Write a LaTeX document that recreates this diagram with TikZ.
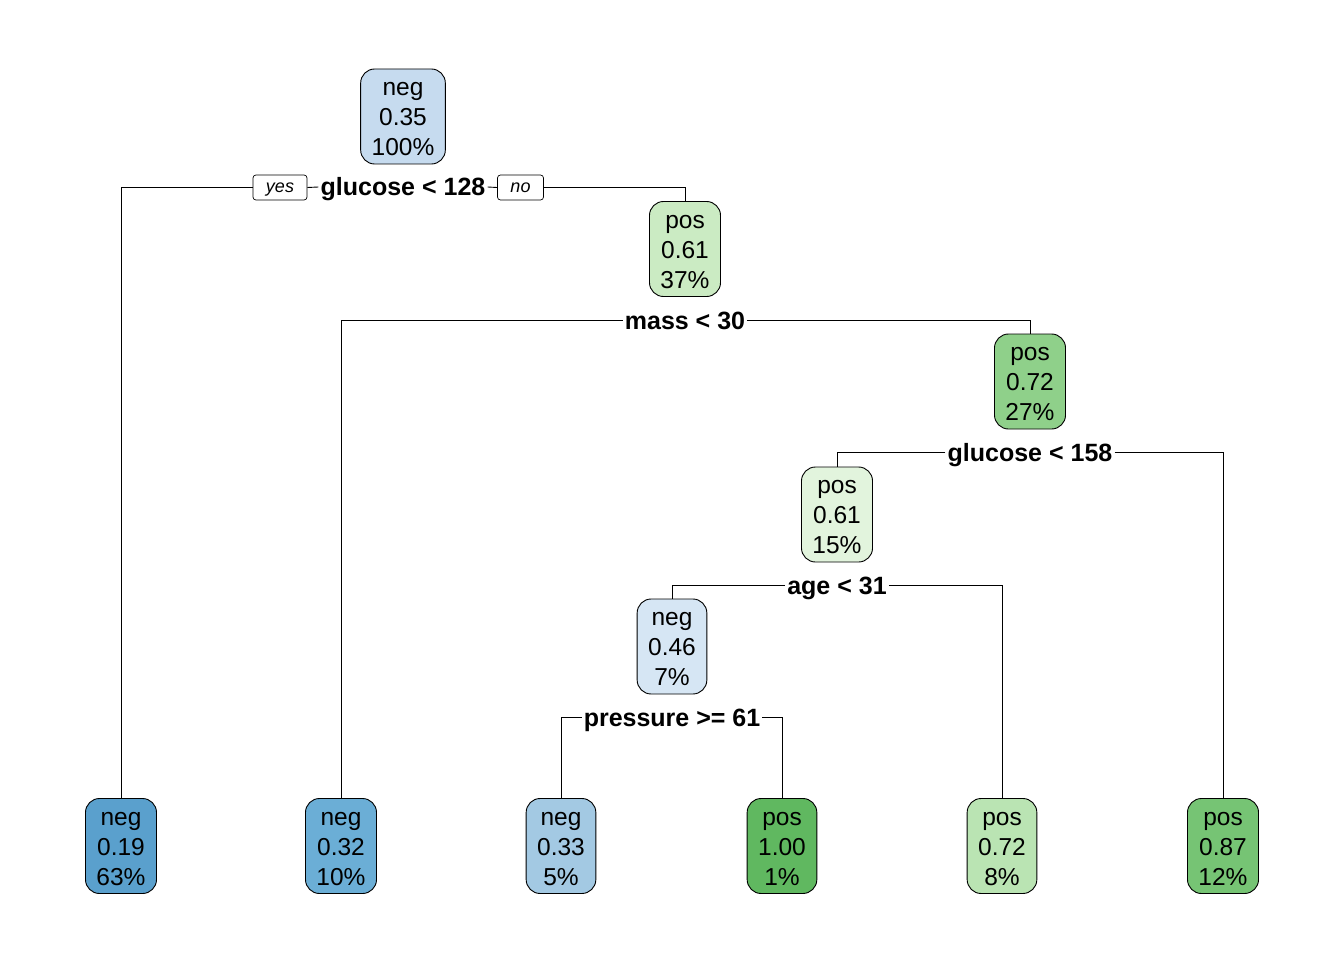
\documentclass[tikz,border=0pt]{standalone}
\usepackage{fontspec}
\setmainfont{Liberation Sans}
\newcommand{\tlines}[3]{\raisebox{-9.6pt}[0pt][0pt]{\begin{tabular}{@{}c@{}}#1\\#2\\#3\end{tabular}}}
\definecolor{cRoot}{HTML}{C6DBEF}
\definecolor{cNa}{HTML}{5AA0CD}
\definecolor{cNb}{HTML}{6BAED6}
\definecolor{cNc}{HTML}{A3C9E3}
\definecolor{cNd}{HTML}{D6E6F4}
\definecolor{cPa}{HTML}{CBEBC3}
\definecolor{cPb}{HTML}{8FD08A}
\definecolor{cPc}{HTML}{E2F4DD}
\definecolor{cPd}{HTML}{60B860}
\definecolor{cPe}{HTML}{BAE4B3}
\definecolor{cPf}{HTML}{76C474}
\tikzset{
  tnode/.style={draw, line width=0.9pt, rounded corners=14pt,
    font=\fontsize{24.5}{30}\selectfont, inner xsep=11pt, inner ysep=0pt,
    minimum height=95pt},
  splitlab/.style={font=\fontsize{25}{30}\selectfont\bfseries, inner xsep=2pt, inner ysep=0pt,
    text height=18pt, text depth=0pt},
  yn/.style={draw, line width=0.7pt, rounded corners=3pt, font=\fontsize{18}{22}\selectfont\itshape,
    inner xsep=13pt, inner ysep=0pt, minimum height=25pt, text height=14pt, text depth=3pt},
  conn/.style={line width=0.9pt}
}
\begin{document}
\begin{tikzpicture}[x=1pt,y=-1pt]
\useasboundingbox (0,0) rectangle (1344,960);
% internal nodes
\node[tnode, fill=cRoot] (root) at (403,116.5) {\tlines{neg}{0.35}{100\%}};
\node[tnode, fill=cPa] (n2) at (685,249) {\tlines{pos}{0.61}{37\%}};
\node[tnode, fill=cPb] (n3) at (1030,381.5) {\tlines{pos}{0.72}{27\%}};
\node[tnode, fill=cPc] (n4) at (837,514.5) {\tlines{pos}{0.61}{15\%}};
\node[tnode, fill=cNd] (n5) at (672,646.5) {\tlines{neg}{0.46}{7\%}};
% leaves
\node[tnode, fill=cNa] (l1) at (121,846) {\tlines{neg}{0.19}{63\%}};
\node[tnode, fill=cNb] (l2) at (341,846) {\tlines{neg}{0.32}{10\%}};
\node[tnode, fill=cNc] (l3) at (561,846) {\tlines{neg}{0.33}{5\%}};
\node[tnode, fill=cPd] (l4) at (782,846) {\tlines{pos}{1.00}{1\%}};
\node[tnode, fill=cPe] (l5) at (1002,846) {\tlines{pos}{0.72}{8\%}};
\node[tnode, fill=cPf] (l6) at (1223,846) {\tlines{pos}{0.87}{12\%}};
% split labels
\node[splitlab] (s1) at (403,187) {glucose < 128};
\node[yn] (yes) at (280,187.5) {yes};
\node[yn] (no) at (520.5,187.5) {no};
\node[splitlab] (s2) at (685,320) {mass < 30};
\node[splitlab] (s3) at (1030,452) {glucose < 158};
\node[splitlab] (s4) at (837,585) {age < 31};
\node[splitlab] (s5) at (672,717) {pressure >= 61};
% connectors
\draw[conn] (yes.west) -| (l1.north);
\draw[conn] (s1.west) -- (yes.east);
\draw[conn] (s1.east) -- (no.west);
\draw[conn] (no.east) -| (n2.north);
\draw[conn] (s2.west) -| (l2.north);
\draw[conn] (s2.east) -| (n3.north);
\draw[conn] (s3.west) -| (n4.north);
\draw[conn] (s3.east) -| (l6.north);
\draw[conn] (s4.west) -| (n5.north);
\draw[conn] (s4.east) -| (l5.north);
\draw[conn] (s5.west) -| (l3.north);
\draw[conn] (s5.east) -| (l4.north);
\end{tikzpicture}
\end{document}
